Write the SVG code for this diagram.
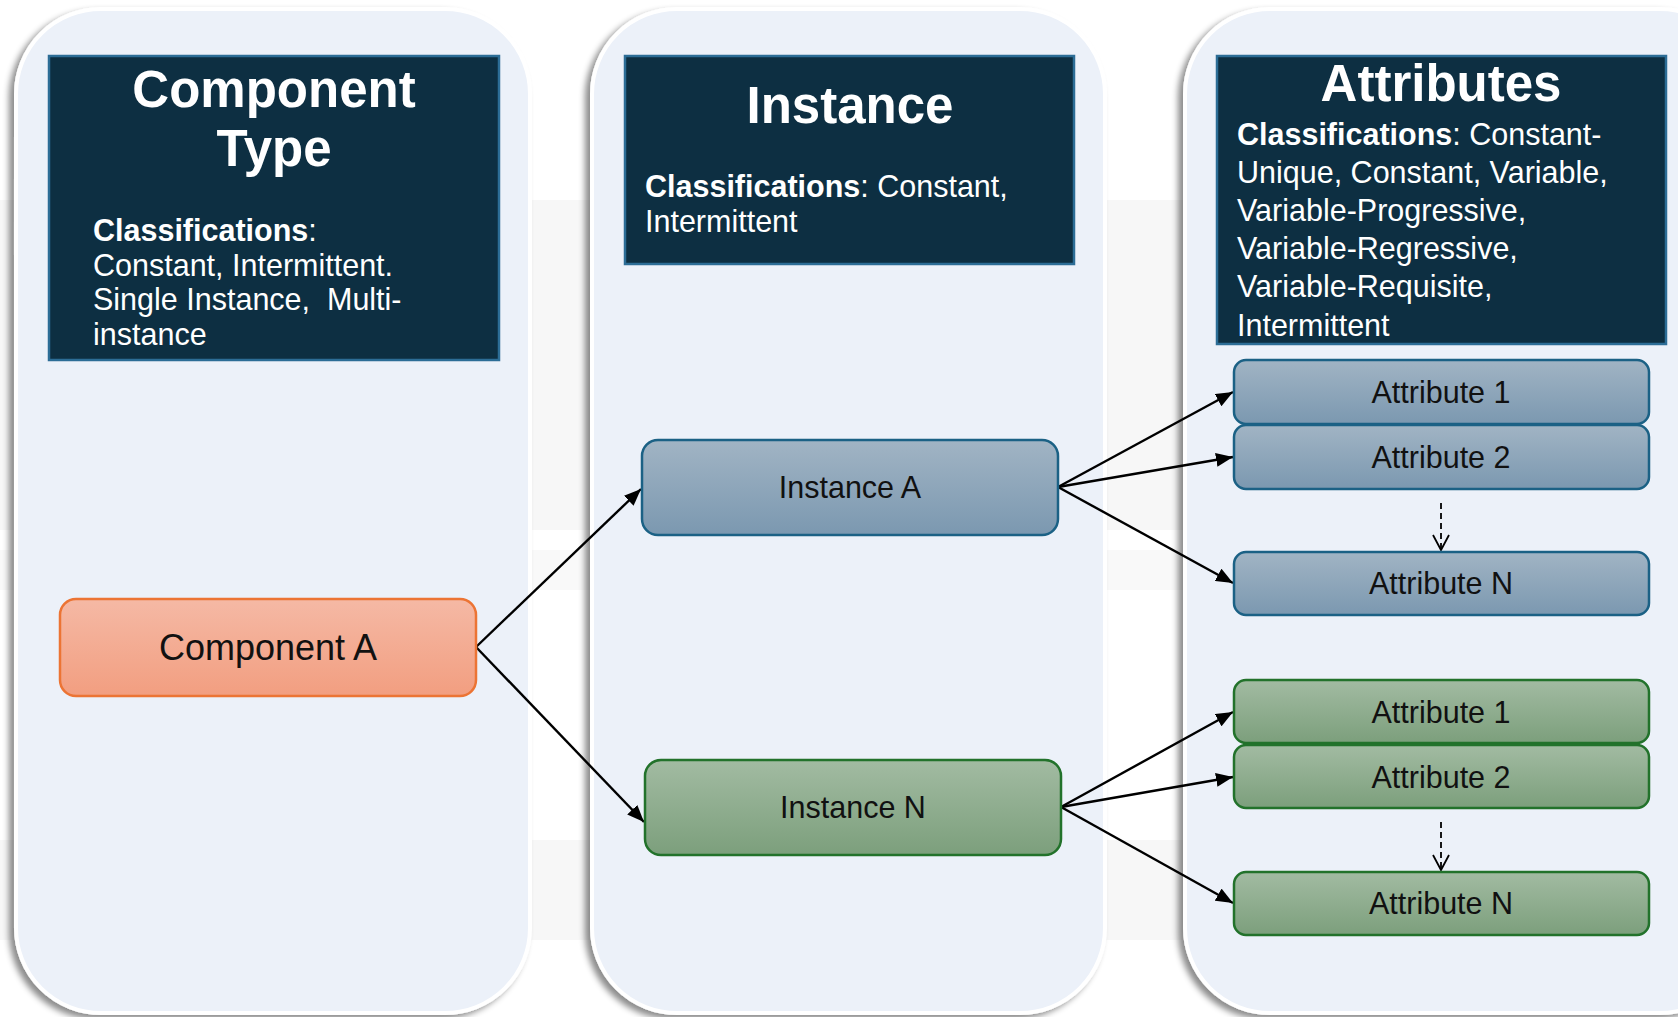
<svg xmlns="http://www.w3.org/2000/svg" width="1678" height="1017" viewBox="0 0 1678 1017">
  <defs>
    <style>
      .panel { fill: #ecf1f9; stroke: #ffffff; stroke-width: 4; filter: url(#panelShadow); }
      .header { fill: #0d2f42; stroke: #2c6d96; stroke-width: 2.5; }
      .title { font-family: "Liberation Sans", Arial, sans-serif; font-weight: bold; font-size: 51px; fill: #ffffff; text-anchor: middle; }
      .body { font-family: "Liberation Sans", Arial, sans-serif; font-size: 30.5px; fill: #ffffff; }
      .body .b { font-weight: bold; }
      .label { font-family: "Liberation Sans", Arial, sans-serif; font-size: 30.5px; fill: #111111; text-anchor: middle; }
      .comp { fill: url(#gOrange); stroke: #ec7434; stroke-width: 2.5; }
      .blue { fill: url(#gBlue); stroke: #1b6185; stroke-width: 2.5; }
      .green { fill: url(#gGreen); stroke: #22722b; stroke-width: 2.5; }
      .edge { stroke: #000000; stroke-width: 2.4; fill: none; marker-end: url(#arrow); }
      .more { stroke: #000000; stroke-width: 1.8; fill: none; stroke-dasharray: 6 4; marker-end: url(#vee); }
    </style>
    <filter id="panelShadow" x="-10%" y="-5%" width="120%" height="110%">
      <feDropShadow dx="-5" dy="4" stdDeviation="3" flood-color="#000000" flood-opacity="0.45"/>
    </filter>
    <linearGradient id="gOrange" x1="0" y1="0" x2="0" y2="1">
      <stop offset="0" stop-color="#f5b9a5"/>
      <stop offset="1" stop-color="#f29e80"/>
    </linearGradient>
    <linearGradient id="gBlue" x1="0" y1="0" x2="0" y2="1">
      <stop offset="0" stop-color="#a1b4c4"/>
      <stop offset="1" stop-color="#7b98b0"/>
    </linearGradient>
    <linearGradient id="gGreen" x1="0" y1="0" x2="0" y2="1">
      <stop offset="0" stop-color="#a2bba2"/>
      <stop offset="1" stop-color="#7c9f7c"/>
    </linearGradient>
    <marker id="arrow" markerUnits="userSpaceOnUse" markerWidth="19" markerHeight="14" refX="17" refY="7" orient="auto">
      <path d="M0,0 L17,7 L0,14 Z" fill="#000000"/>
    </marker>
    <marker id="vee" markerUnits="userSpaceOnUse" markerWidth="20" markerHeight="20" refX="16" refY="9" orient="auto">
      <path d="M1,1 L16,9 L1,17" fill="none" stroke="#000000" stroke-width="1.8"/>
    </marker>
  </defs>

  <!-- backdrop -->
  <rect x="0" y="0" width="1678" height="1017" fill="#ffffff"/>
  <rect x="0" y="200" width="1678" height="330" fill="#f7f7f7"/>
  <rect x="0" y="550" width="1678" height="40" fill="#f9f9f9"/>
  <rect x="0" y="840" width="1678" height="100" fill="#f7f7f7"/>

  <!-- column panels -->
  <rect class="panel" x="16" y="9" width="514" height="1004" rx="85"/>
  <rect class="panel" x="592" y="9" width="513" height="1004" rx="85"/>
  <rect class="panel" x="1185" y="9" width="560" height="1004" rx="85"/>

  <!-- column headers -->
  <g id="header-component-type">
    <rect class="header" x="49" y="56" width="450" height="304"/>
    <text class="title" x="274" y="107">Component</text>
    <text class="title" x="274" y="166">Type</text>
    <text class="body" x="93" y="241"><tspan class="b">Classifications</tspan>:</text>
    <text class="body" x="93" y="275.5">Constant, Intermittent.</text>
    <text class="body" x="93" y="310" style="white-space:pre">Single Instance,  Multi-</text>
    <text class="body" x="93" y="344.5">instance</text>
  </g>

  <g id="header-instance">
    <rect class="header" x="625" y="56" width="449" height="208"/>
    <text class="title" x="850" y="123">Instance</text>
    <text class="body" x="645" y="197"><tspan class="b">Classifications</tspan>: Constant,</text>
    <text class="body" x="645" y="231.5">Intermittent</text>
  </g>

  <g id="header-attributes">
    <rect class="header" x="1217" y="56" width="449" height="288"/>
    <text class="title" x="1441" y="101">Attributes</text>
    <text class="body" x="1237" y="144.5"><tspan class="b">Classifications</tspan>: Constant-</text>
    <text class="body" x="1237" y="182.5">Unique, Constant, Variable,</text>
    <text class="body" x="1237" y="220.5">Variable-Progressive,</text>
    <text class="body" x="1237" y="259">Variable-Regressive,</text>
    <text class="body" x="1237" y="297">Variable-Requisite,</text>
    <text class="body" x="1237" y="335.5">Intermittent</text>
  </g>

  <!-- connectors -->
  <g id="connectors">
    <line class="edge" x1="476" y1="647" x2="641" y2="489"/>
    <line class="edge" x1="476" y1="647" x2="644" y2="822"/>
    <line class="edge" x1="1058" y1="487" x2="1233" y2="392"/>
    <line class="edge" x1="1058" y1="487" x2="1233" y2="457"/>
    <line class="edge" x1="1058" y1="487" x2="1233" y2="583"/>
    <line class="edge" x1="1061" y1="807" x2="1233" y2="712"/>
    <line class="edge" x1="1061" y1="807" x2="1233" y2="777"/>
    <line class="edge" x1="1061" y1="807" x2="1233" y2="903"/>
    <line class="more" x1="1441" y1="503" x2="1441" y2="550"/>
    <line class="more" x1="1441" y1="822" x2="1441" y2="870"/>
  </g>

  <!-- nodes -->
  <g id="component-a">
    <rect class="comp" x="60" y="599" width="416" height="97" rx="16"/>
    <text class="label" x="268" y="660" style="font-size:36px">Component A</text>
  </g>
  <g id="instance-a">
    <rect class="blue" x="642" y="440" width="416" height="95" rx="16"/>
    <text class="label" x="850" y="498">Instance A</text>
  </g>
  <g id="instance-n">
    <rect class="green" x="645" y="760" width="416" height="95" rx="16"/>
    <text class="label" x="853" y="818">Instance N</text>
  </g>

  <g id="attr-a-1">
    <rect class="blue" x="1234" y="360" width="415" height="64" rx="12"/>
    <text class="label" x="1441" y="403">Attribute 1</text>
  </g>
  <g id="attr-a-2">
    <rect class="blue" x="1234" y="425" width="415" height="64" rx="12"/>
    <text class="label" x="1441" y="468">Attribute 2</text>
  </g>
  <g id="attr-a-n">
    <rect class="blue" x="1234" y="552" width="415" height="63" rx="12"/>
    <text class="label" x="1441" y="594">Attribute N</text>
  </g>

  <g id="attr-n-1">
    <rect class="green" x="1234" y="680" width="415" height="63" rx="12"/>
    <text class="label" x="1441" y="723">Attribute 1</text>
  </g>
  <g id="attr-n-2">
    <rect class="green" x="1234" y="745" width="415" height="63" rx="12"/>
    <text class="label" x="1441" y="788">Attribute 2</text>
  </g>
  <g id="attr-n-n">
    <rect class="green" x="1234" y="872" width="415" height="63" rx="12"/>
    <text class="label" x="1441" y="914">Attribute N</text>
  </g>
</svg>
